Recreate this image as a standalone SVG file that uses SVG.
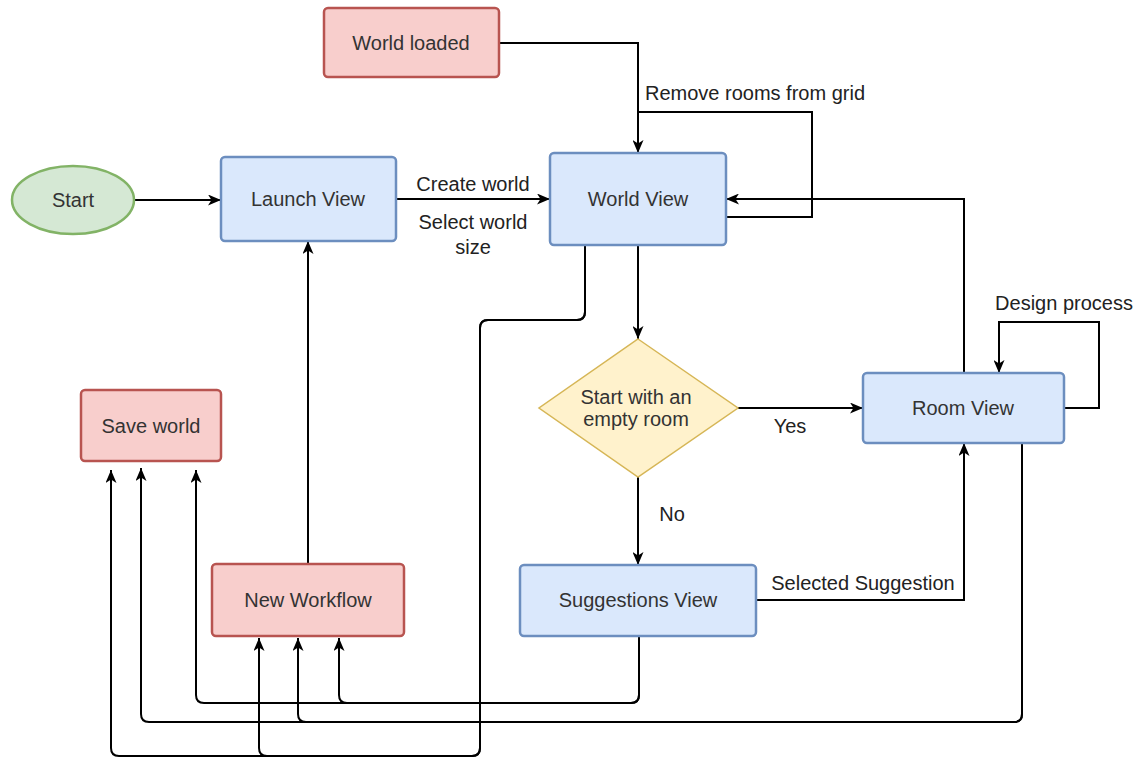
<svg xmlns="http://www.w3.org/2000/svg" width="1140" height="758" viewBox="0 0 1140 758">
<style>
text{font-family:"Liberation Sans",Arial,sans-serif;font-size:20px;fill:#333;}
.nt{text-anchor:middle;}
.lb{text-anchor:middle;fill:#222;}
.blue{fill:#dae8fc;stroke:#6c8ebf;stroke-width:2.5;}
.red{fill:#f8cecc;stroke:#b85450;stroke-width:2.5;}
.green{fill:#d5e8d4;stroke:#82b366;stroke-width:2.5;}
.yellow{fill:#fff2cc;stroke:#d6b656;stroke-width:1.5;}
.e{fill:none;stroke:#000;stroke-width:2;}
.ea{fill:none;stroke:#000;stroke-width:2;marker-end:url(#arr);}
</style>
<defs>
<marker id="arr" viewBox="0 0 13 11" refX="13" refY="5.5" markerWidth="13" markerHeight="11" markerUnits="userSpaceOnUse" orient="auto">
<path d="M0,0 L13,5.5 L0,11 L3.5,5.5 Z" fill="#000"/>
</marker>
</defs>
<rect width="1140" height="758" fill="#fff"/>
<g id="connectors">
<path class="ea" d="M135,200 H221"/>
<path class="ea" d="M396,199 H550"/>
<path class="ea" d="M499,43 H638 V153"/>
<path class="e" d="M726,217 H812 V112 H638"/>
<path class="ea" d="M964,373 V199 H726"/>
<path class="ea" d="M638,246 V339"/>
<path class="ea" d="M738,408 H863"/>
<path class="ea" d="M638,477 V565"/>
<path class="ea" d="M756,600 H964 V443"/>
<path class="ea" d="M1064,408 H1099 V322 H999 V373"/>
<path class="ea" d="M308,564 V241"/>
<path class="ea" d="M585,246 V312 Q585,320 577,320 H488 Q480,320 480,328 V748 Q480,756 472,756 H119 Q111,756 111,748 V470"/>
<path class="ea" d="M585,246 V312 Q585,320 577,320 H488 Q480,320 480,328 V748 Q480,756 472,756 H267 Q259,756 259,748 V638"/>
<path class="ea" d="M639,636 V695 Q639,703 631,703 H204 Q196,703 196,695 V470"/>
<path class="ea" d="M639,636 V695 Q639,703 631,703 H347 Q339,703 339,695 V638"/>
<path class="ea" d="M1022,443 V714 Q1022,722 1014,722 H149 Q141,722 141,714 V468"/>
<path class="ea" d="M1022,443 V714 Q1022,722 1014,722 H306 Q298,722 298,714 V638"/>
<text class="lb" x="473" y="191">Create world</text>
<text class="lb" x="473" y="229">Select world</text>
<text class="lb" x="473" y="254">size</text>
<text class="lb" x="755" y="100">Remove rooms from grid</text>
<text class="lb" x="790" y="433">Yes</text>
<text class="lb" x="672" y="521">No</text>
<text class="lb" x="863" y="590">Selected Suggestion</text>
<text class="lb" x="1064" y="310">Design process</text>
</g>
<g id="start">
<ellipse class="green" cx="73" cy="200" rx="61" ry="34"/>
<text class="nt" x="73" y="207">Start</text>
</g>
<g id="world-loaded">
<rect class="red" x="324" y="8" width="175" height="69" rx="4"/>
<text class="nt" x="411" y="50">World loaded</text>
</g>
<g id="launch-view">
<rect class="blue" x="221" y="157" width="175" height="84" rx="4"/>
<text class="nt" x="308" y="206">Launch View</text>
</g>
<g id="world-view">
<rect class="blue" x="550" y="153" width="176" height="92" rx="4"/>
<text class="nt" x="638" y="206">World View</text>
</g>
<g id="decision">
<polygon class="yellow" points="638,339 738,408 638,477 539,408"/>
<text class="nt" x="636" y="404">Start with an</text>
<text class="nt" x="636" y="426">empty room</text>
</g>
<g id="room-view">
<rect class="blue" x="863" y="373" width="201" height="70" rx="4"/>
<text class="nt" x="963" y="415">Room View</text>
</g>
<g id="suggestions-view">
<rect class="blue" x="520" y="565" width="236" height="71" rx="4"/>
<text class="nt" x="638" y="607">Suggestions View</text>
</g>
<g id="save-world">
<rect class="red" x="81" y="390" width="140" height="71" rx="4"/>
<text class="nt" x="151" y="433">Save world</text>
</g>
<g id="new-workflow">
<rect class="red" x="212" y="564" width="192" height="72" rx="4"/>
<text class="nt" x="308" y="607">New Workflow</text>
</g>
</svg>
